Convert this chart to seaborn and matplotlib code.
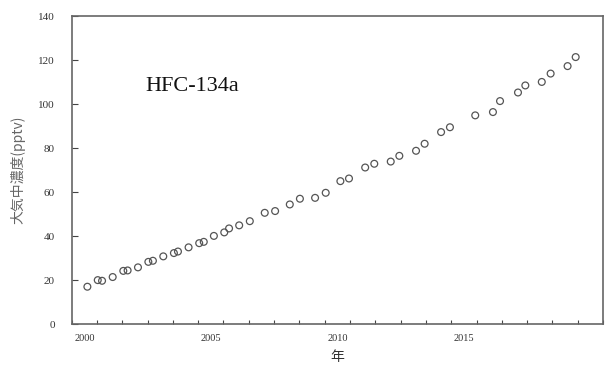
import numpy as np
import pandas as pd
import matplotlib
matplotlib.use("Agg")
import matplotlib.pyplot as plt
import seaborn as sns

# decimal year of each measurement and HFC-134a mixing ratio (pptv)
years = [2000.12, 2000.53, 2000.70, 2001.12, 2001.54, 2001.71, 2002.12, 2002.53,
         2002.71, 2003.12, 2003.54, 2003.70, 2004.12, 2004.54, 2004.72, 2005.12,
         2005.53, 2005.72, 2006.12, 2006.54, 2007.13, 2007.54, 2008.12, 2008.52,
         2009.12, 2009.54, 2010.12, 2010.46, 2011.10, 2011.46, 2012.11, 2012.45,
         2013.11, 2013.45, 2014.10, 2014.45, 2015.45, 2016.15, 2016.43, 2017.14,
         2017.43, 2018.08, 2018.43, 2019.10, 2019.42]
pptv = [17.0, 20.0, 19.7, 21.4, 24.2, 24.4, 25.8, 28.3,
        28.8, 30.8, 32.3, 33.0, 34.9, 36.8, 37.4, 40.1,
        41.7, 43.5, 44.9, 46.8, 50.6, 51.4, 54.4, 57.0,
        57.4, 59.7, 65.0, 66.2, 71.2, 72.9, 73.9, 76.5,
        78.8, 82.0, 87.3, 89.5, 94.9, 96.4, 101.4, 105.3,
        108.5, 110.1, 113.9, 117.3, 121.4]
year_labels = [2000, 2005, 2010, 2015]
y_ticks = [0, 20, 40, 60, 80, 100, 120, 140]

df = pd.DataFrame({"year": years, "pptv": pptv})

sns.set_theme(style="white")
plt.rcParams["font.family"] = ["Liberation Serif", "Noto Sans CJK JP", "DejaVu Sans"]

fig = plt.figure(figsize=(6.05, 3.76), dpi=100)
ax = fig.add_axes([0.1185, 0.138, 0.8782, 0.819])

sns.scatterplot(data=df, x="year", y="pptv", ax=ax, s=24, marker="o",
                facecolor="none", edgecolor="#555555", linewidth=0.9)

ax.set_xlim(1999.5, 2020.5)
ax.set_ylim(0, 140)
ax.set_xticks(year_labels)
ax.set_xticklabels([str(y) for y in year_labels])
ax.set_xticks(np.arange(1999.5, 2021, 1.0), minor=True)
ax.set_yticks(y_ticks)
ax.set_yticklabels([str(v) for v in y_ticks])

ax.tick_params(axis="x", which="major", length=0, labelsize=7.5, pad=7, colors="#333333")
ax.tick_params(axis="x", which="minor", direction="in", length=3, width=0.8, color="#444444")
ax.tick_params(axis="y", direction="in", length=4, width=0.8, color="#444444",
               labelsize=8, pad=12, labelcolor="#333333")
ax.tick_params(bottom=True, which="minor")
ax.tick_params(left=True)

for sp in ax.spines.values():
    sp.set_color("#666666")
    sp.set_linewidth(1.2)

ax.set_xlabel("年", fontsize=10, family=["Noto Sans CJK JP"], color="#333333", labelpad=5)
ax.set_ylabel("大気中濃度(pptv)", fontsize=10, family=["Noto Sans CJK JP", "DejaVu Sans"],
              color="#666666", labelpad=9)

ax.text(0.138, 0.77, "HFC-134a", transform=ax.transAxes, fontsize=16,
        family=["Liberation Serif"], color="#111111", va="center", ha="left")

fig.savefig("out.png", dpi=100)
